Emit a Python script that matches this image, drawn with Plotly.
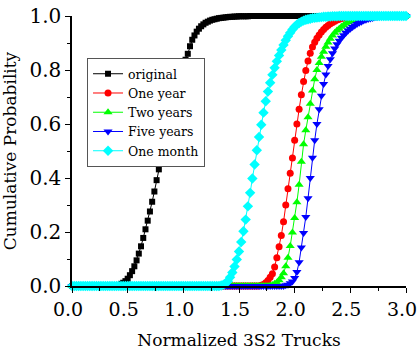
import plotly.graph_objects as go

x_values = [
    0.00, 0.02, 0.04, 0.06, 0.08, 0.10, 0.12, 0.14, 0.16, 0.18,
    0.20, 0.22, 0.24, 0.26, 0.28, 0.30, 0.32, 0.34, 0.36, 0.38,
    0.40, 0.42, 0.44, 0.46, 0.48, 0.50, 0.52, 0.54, 0.56, 0.58,
    0.60, 0.62, 0.64, 0.66, 0.68, 0.70, 0.72, 0.74, 0.76, 0.78,
    0.80, 0.82, 0.84, 0.86, 0.88, 0.90, 0.92, 0.94, 0.96, 0.98,
    1.00, 1.02, 1.04, 1.06, 1.08, 1.10, 1.12, 1.14, 1.16, 1.18,
    1.20, 1.22, 1.24, 1.26, 1.28, 1.30, 1.32, 1.34, 1.36, 1.38,
    1.40, 1.42, 1.44, 1.46, 1.48, 1.50, 1.52, 1.54, 1.56, 1.58,
    1.60, 1.62, 1.64, 1.66, 1.68, 1.70, 1.72, 1.74, 1.76, 1.78,
    1.80, 1.82, 1.84, 1.86, 1.88, 1.90, 1.92, 1.94, 1.96, 1.98,
    2.00, 2.02, 2.04, 2.06, 2.08, 2.10, 2.12, 2.14, 2.16, 2.18,
    2.20, 2.22, 2.24, 2.26, 2.28, 2.30, 2.32, 2.34, 2.36, 2.38,
    2.40, 2.42, 2.44, 2.46, 2.48, 2.50, 2.52, 2.54, 2.56, 2.58,
    2.60, 2.62, 2.64, 2.66, 2.68, 2.70, 2.72, 2.74, 2.76, 2.78,
    2.80, 2.82, 2.84, 2.86, 2.88, 2.90, 2.92, 2.94, 2.96, 2.98,
    3.00,
]

original = [
    0, 0, 0, 0, 0, 0, 0, 0, 0, 0,
    0, 0, 0, 0, 0, 0, 0, 0, 0, 0,
    0, 0.004, 0.008, 0.012, 0.018, 0.027, 0.040, 0.055, 0.073, 0.095,
    0.120, 0.147, 0.178, 0.210, 0.242, 0.276, 0.312, 0.350, 0.392, 0.432,
    0.470, 0.508, 0.545, 0.583, 0.620, 0.655, 0.690, 0.722, 0.755, 0.785,
    0.812, 0.838, 0.860, 0.888, 0.912, 0.928, 0.942, 0.953, 0.962, 0.969,
    0.975, 0.979, 0.983, 0.986, 0.988, 0.990, 0.992, 0.993, 0.994, 0.995,
    0.996, 0.997, 0.997, 0.998, 0.998, 0.999, 0.999, 0.999, 0.999, 0.999,
    1, 1, 1, 1, 1, 1, 1, 1, 1, 1,
    1, 1, 1, 1, 1, 1, 1, 1, 1, 1,
    1, 1, 1, 1, 1, 1, 1, 1, 1, 1,
    1, 1, 1, 1, 1, 1, 1, 1, 1, 1,
    1, 1, 1, 1, 1, 1, 1, 1, 1, 1,
    1, 1, 1, 1, 1, 1, 1, 1, 1, 1,
    1, 1, 1, 1, 1, 1, 1, 1, 1, 1,
    1,
]

one_year = [
    0, 0, 0, 0, 0, 0, 0, 0, 0, 0,
    0, 0, 0, 0, 0, 0, 0, 0, 0, 0,
    0, 0, 0, 0, 0, 0, 0, 0, 0, 0,
    0, 0, 0, 0, 0, 0, 0, 0, 0, 0,
    0, 0, 0, 0, 0, 0, 0, 0, 0, 0,
    0, 0, 0, 0, 0, 0, 0, 0, 0, 0,
    0, 0, 0, 0, 0, 0, 0, 0, 0, 0,
    0, 0, 0, 0, 0, 0, 0, 0, 0, 0,
    0, 0, 0, 0, 0, 0.003, 0.006, 0.012, 0.020, 0.032,
    0.045, 0.070, 0.105, 0.145, 0.187, 0.238, 0.300, 0.360, 0.418, 0.474,
    0.540, 0.600, 0.655, 0.708, 0.757, 0.798, 0.833, 0.862, 0.885, 0.903,
    0.918, 0.930, 0.941, 0.950, 0.958, 0.965, 0.971, 0.976, 0.981, 0.985,
    0.988, 0.991, 0.993, 0.995, 0.996, 0.997, 0.998, 0.999, 0.999, 1,
    1, 1, 1, 1, 1, 1, 1, 1, 1, 1,
    1, 1, 1, 1, 1, 1, 1, 1, 1, 1,
    1,
]

two_years = [
    0, 0, 0, 0, 0, 0, 0, 0, 0, 0,
    0, 0, 0, 0, 0, 0, 0, 0, 0, 0,
    0, 0, 0, 0, 0, 0, 0, 0, 0, 0,
    0, 0, 0, 0, 0, 0, 0, 0, 0, 0,
    0, 0, 0, 0, 0, 0, 0, 0, 0, 0,
    0, 0, 0, 0, 0, 0, 0, 0, 0, 0,
    0, 0, 0, 0, 0, 0, 0, 0, 0, 0,
    0, 0, 0, 0, 0, 0, 0, 0, 0, 0,
    0, 0, 0, 0, 0, 0, 0, 0, 0, 0.002,
    0.004, 0.008, 0.013, 0.021, 0.032, 0.047, 0.073, 0.105, 0.148, 0.198,
    0.252, 0.310, 0.375, 0.460, 0.525, 0.577, 0.625, 0.675, 0.724, 0.766,
    0.800, 0.826, 0.849, 0.868, 0.886, 0.902, 0.916, 0.928, 0.938, 0.946,
    0.953, 0.960, 0.966, 0.972, 0.977, 0.981, 0.985, 0.988, 0.991, 0.993,
    0.995, 0.997, 0.998, 0.999, 1, 1, 1, 1, 1, 1,
    1, 1, 1, 1, 1, 1, 1, 1, 1, 1,
    1,
]

five_years = [
    0, 0, 0, 0, 0, 0, 0, 0, 0, 0,
    0, 0, 0, 0, 0, 0, 0, 0, 0, 0,
    0, 0, 0, 0, 0, 0, 0, 0, 0, 0,
    0, 0, 0, 0, 0, 0, 0, 0, 0, 0,
    0, 0, 0, 0, 0, 0, 0, 0, 0, 0,
    0, 0, 0, 0, 0, 0, 0, 0, 0, 0,
    0, 0, 0, 0, 0, 0, 0, 0, 0, 0,
    0, 0, 0, 0, 0, 0, 0, 0, 0, 0,
    0, 0, 0, 0, 0, 0, 0, 0, 0, 0,
    0, 0, 0, 0, 0, 0, 0.003, 0.005, 0.010, 0.017,
    0.030, 0.052, 0.088, 0.143, 0.196, 0.256, 0.325, 0.400, 0.475, 0.540,
    0.600, 0.655, 0.705, 0.748, 0.783, 0.815, 0.840, 0.862, 0.880, 0.895,
    0.908, 0.919, 0.929, 0.938, 0.946, 0.953, 0.959, 0.965, 0.970, 0.975,
    0.979, 0.983, 0.986, 0.989, 0.991, 0.993, 0.995, 0.996, 0.997, 0.998,
    0.999, 1, 1, 1, 1, 1, 1, 1, 1, 1,
    1,
]

one_month = [
    0, 0, 0, 0, 0, 0, 0, 0, 0, 0,
    0, 0, 0, 0, 0, 0, 0, 0, 0, 0,
    0, 0, 0, 0, 0, 0, 0, 0, 0, 0,
    0, 0, 0, 0, 0, 0, 0, 0, 0, 0,
    0, 0, 0, 0, 0, 0, 0, 0, 0, 0,
    0, 0, 0, 0, 0, 0, 0, 0, 0, 0,
    0, 0, 0, 0, 0, 0, 0, 0.002, 0.005, 0.010,
    0.018, 0.032, 0.050, 0.072, 0.098, 0.128, 0.163, 0.203, 0.246, 0.295,
    0.345, 0.398, 0.450, 0.503, 0.552, 0.597, 0.642, 0.684, 0.720, 0.753,
    0.782, 0.808, 0.832, 0.854, 0.874, 0.893, 0.910, 0.925, 0.938, 0.950,
    0.960, 0.968, 0.974, 0.979, 0.983, 0.986, 0.988, 0.990, 0.992, 0.993,
    0.994, 0.995, 0.996, 0.997, 0.997, 0.998, 0.998, 0.999, 0.999, 0.999,
    1, 1, 1, 1, 1, 1, 1, 1, 1, 1,
    1, 1, 1, 1, 1, 1, 1, 1, 1, 1,
    1, 1, 1, 1, 1, 1, 1, 1, 1, 1,
    1,
]

series_names = ["original", "One year", "Two years", "Five years", "One month"]
series_values = [original, one_year, two_years, five_years, one_month]
series_colors = ["#000000", "#FF0000", "#00FF00", "#0000FF", "#00FFFF"]
series_symbols = ["square", "circle", "triangle-up", "triangle-down", "diamond"]
series_sizes = [6, 7, 8, 8, 8]

x_tick_values = [0.0, 0.5, 1.0, 1.5, 2.0, 2.5, 3.0]
y_tick_values = [0.0, 0.2, 0.4, 0.6, 0.8, 1.0]

FONT = "DejaVu Serif, Liberation Serif, Times New Roman, serif"

fig = go.Figure()
for name, vals, col, sym, sz in zip(series_names, series_values, series_colors,
                                    series_symbols, series_sizes):
    fig.add_trace(go.Scatter(
        x=x_values, y=vals, name=name, mode="lines+markers",
        line=dict(color=col, width=1),
        marker=dict(symbol=sym, size=sz, color=col, line=dict(width=0)),
        cliponaxis=False,
    ))

axis_common = dict(
    showgrid=False, zeroline=False, showline=True, linecolor="black",
    linewidth=1.5, ticks="outside", ticklen=5, tickwidth=1.2, tickcolor="black",
    mirror=False, ticklabeloverflow="allow", automargin=False,
)

fig.update_xaxes(
    range=[0, 3], tickvals=x_tick_values, tickformat=".1f",
    tickfont=dict(family=FONT, size=19, color="black"), ticklabelshift=-4,
    title=dict(text="Normalized 3S2 Trucks", font=dict(family=FONT, size=17, color="black"),
               standoff=16),
    minor=dict(dtick=0.25, tick0=0, ticks="outside", ticklen=3, tickcolor="black"),
    **axis_common,
)
fig.update_yaxes(
    range=[0, 1], tickvals=y_tick_values, tickformat=".1f",
    tickfont=dict(family=FONT, size=20, color="black"),
    title=dict(text="Cumulative Probability", font=dict(family=FONT, size=17, color="black"),
               standoff=8),
    minor=dict(dtick=0.1, tick0=0, ticks="outside", ticklen=3, tickcolor="black"),
    **axis_common,
)

fig.update_layout(
    width=418, height=353,
    margin=dict(l=72, r=12, t=16, b=67),
    paper_bgcolor="white", plot_bgcolor="white",
    font=dict(family=FONT, color="black"),
    legend=dict(
        x=0.045, y=0.844, xanchor="left", yanchor="top",
        bgcolor="white", bordercolor="#555555", borderwidth=1,
        font=dict(family=FONT, size=12.5, color="black"),
        itemwidth=30, tracegroupgap=0,
    ),
    showlegend=True,
)

fig.write_html("out.html", config={"displayModeBar": False},
               post_script="document.body.style.margin='0';")
